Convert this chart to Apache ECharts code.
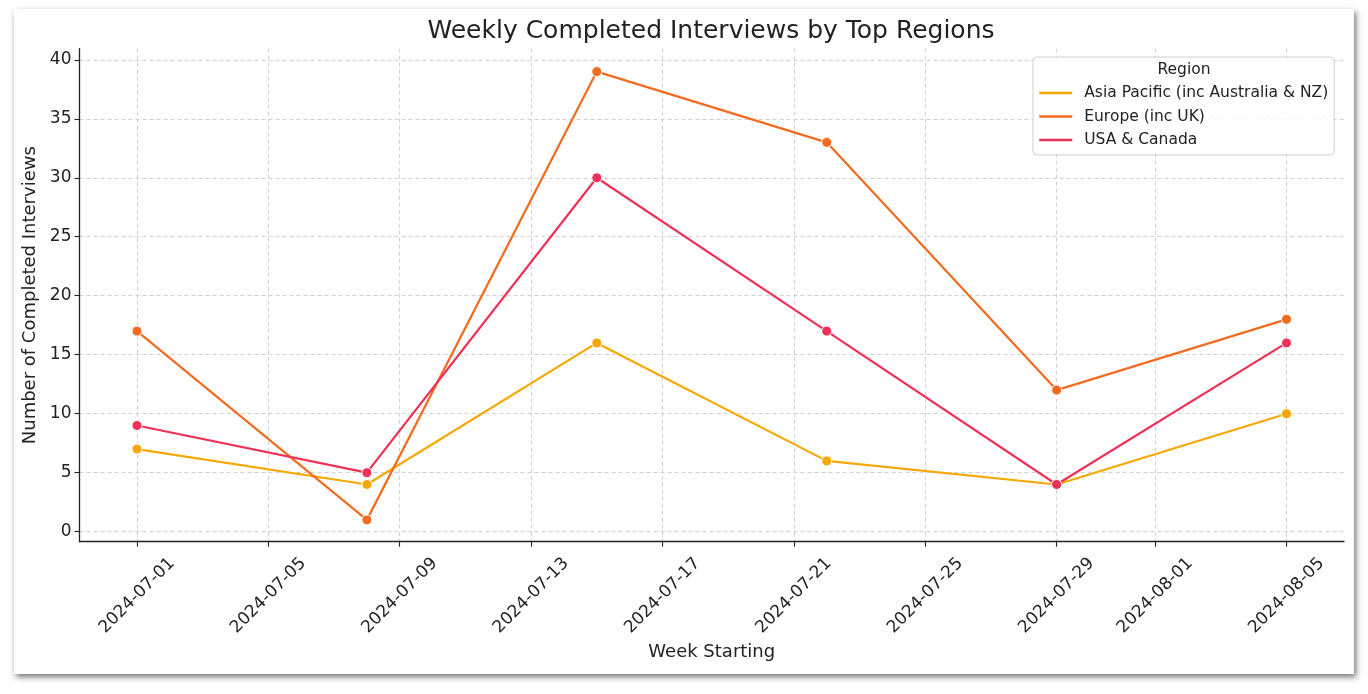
<!DOCTYPE html>
<html lang="en">
<head>
    <meta charset="UTF-8">
    <title>Weekly Completed Interviews by Top Regions</title>
    <script src="https://cdn.jsdelivr.net/npm/echarts@6/dist/echarts.min.js"></script>
    <style>
        html, body { margin: 0; padding: 0; background: #fff; }
        #card {
            position: absolute; left: 14px; top: 9px; width: 1340px; height: 665px;
            background: #fff; box-shadow: 2px 3px 6px rgba(0, 0, 0, 0.55);
        }
        #main { position: absolute; left: 0; top: 0; width: 1368px; height: 694px; }
    </style>
</head>
<body>
    <div id="card"></div>
    <div id="main"></div>
    <script>
        const weeks = ['2024-07-01', '2024-07-08', '2024-07-15', '2024-07-22', '2024-07-29', '2024-08-05'];
        const asiaPacific = [7, 4, 16, 6, 4, 10];
        const europe = [17, 1, 39, 33, 12, 18];
        const usaCanada = [9, 5, 30, 17, 4, 16];
        const xTicks = ['2024-07-01', '2024-07-05', '2024-07-09', '2024-07-13', '2024-07-17',
            '2024-07-21', '2024-07-25', '2024-07-29', '2024-08-01', '2024-08-05'];
        const yTicks = [0, 5, 10, 15, 20, 25, 30, 35, 40];

        const regions = [
            { name: 'Asia Pacific (inc Australia & NZ)', values: asiaPacific, color: '#f7a800' },
            { name: 'Europe (inc UK)', values: europe, color: '#f26b1f' },
            { name: 'USA & Canada', values: usaCanada, color: '#ee3157' }
        ];

        // dates -> timestamps, drawn on a plain value axis so the odd tick spacing can be kept
        const t = s => +echarts.time.parse(s);
        const DAY = 86400000;
        const ink = '#222';
        const font = 'DejaVu Sans';

        const series = regions.map(r => ({
            name: r.name,
            type: 'line',
            data: weeks.map((w, i) => [t(w), r.values[i]]),
            symbol: 'circle',
            symbolSize: 10,
            lineStyle: { width: 2.2, color: r.color },
            itemStyle: { color: r.color, borderColor: '#fff', borderWidth: 1 },
            emphasis: { disabled: true }
        }));

        const option = {
            animation: false,
            color: regions.map(r => r.color),
            textStyle: { fontFamily: font },
            grid: { left: 79.5, top: 48.7, right: 24, bottom: 152.3 },
            graphic: [
                {
                    type: 'text', x: 711, y: 31, z: 10,
                    style: {
                        text: 'Weekly Completed Interviews by Top Regions',
                        font: '25px "DejaVu Sans"', fill: ink,
                        textAlign: 'center', textVerticalAlign: 'middle'
                    }
                },
                {
                    type: 'text', x: 1184, y: 70, z: 10,
                    style: {
                        text: 'Region', font: '15.5px "DejaVu Sans"', fill: ink,
                        textAlign: 'center', textVerticalAlign: 'middle'
                    }
                }
            ],
            legend: {
                orient: 'vertical',
                left: 1033,
                top: 57,
                padding: [27, 6, 6, 5],
                itemWidth: 33,
                itemHeight: 14,
                itemGap: 5.5,
                itemStyle: { opacity: 0 },
                lineStyle: { width: 2.5 },
                backgroundColor: 'rgba(255,255,255,0.85)',
                borderColor: '#cfcfcf',
                borderWidth: 1,
                borderRadius: 4,
                textStyle: { fontSize: 15.5, color: ink, lineHeight: 18, padding: [0, 0, 0, 7], fontFamily: font },
                data: regions.map(r => r.name)
            },
            xAxis: {
                type: 'value',
                min: t(weeks[0]) - 1.75 * DAY,
                max: t(weeks[weeks.length - 1]) + 1.75 * DAY,
                name: 'Week Starting',
                nameLocation: 'middle',
                nameGap: 102,
                nameTextStyle: { fontSize: 18, color: ink, fontFamily: font },
                axisLine: { show: true, onZero: false, lineStyle: { color: ink, width: 1.3 } },
                axisTick: { show: true, length: 5, lineStyle: { color: ink, width: 1.1 }, customValues: xTicks.map(t) },
                axisLabel: {
                    customValues: xTicks.map(t),
                    formatter: v => echarts.time.format(v, '{yyyy}-{MM}-{dd}', false),
                    rotate: 45,
                    align: 'center',
                    verticalAlign: 'middle',
                    margin: 54,
                    fontSize: 17,
                    color: ink,
                    fontFamily: font
                },
                splitLine: { show: true, lineStyle: { color: '#cccccc', type: [4, 3], width: 0.9 } }
            },
            yAxis: {
                type: 'value',
                min: -0.85,
                max: 40.94,
                name: 'Number of Completed Interviews',
                nameLocation: 'middle',
                nameGap: 35,
                nameTextStyle: { fontSize: 18, color: ink, fontFamily: font },
                axisLine: { show: true, onZero: false, lineStyle: { color: ink, width: 1.3 } },
                axisTick: { show: true, length: 5, lineStyle: { color: ink, width: 1.1 }, customValues: yTicks },
                axisLabel: { customValues: yTicks, margin: 8, fontSize: 17, color: ink, fontFamily: font },
                splitLine: { show: true, lineStyle: { color: '#cccccc', type: [4, 3], width: 0.9 } }
            },
            series: series
        };

        const chart = echarts.init(document.getElementById('main'));
        chart.setOption(option);
    </script>
</body>
</html>
